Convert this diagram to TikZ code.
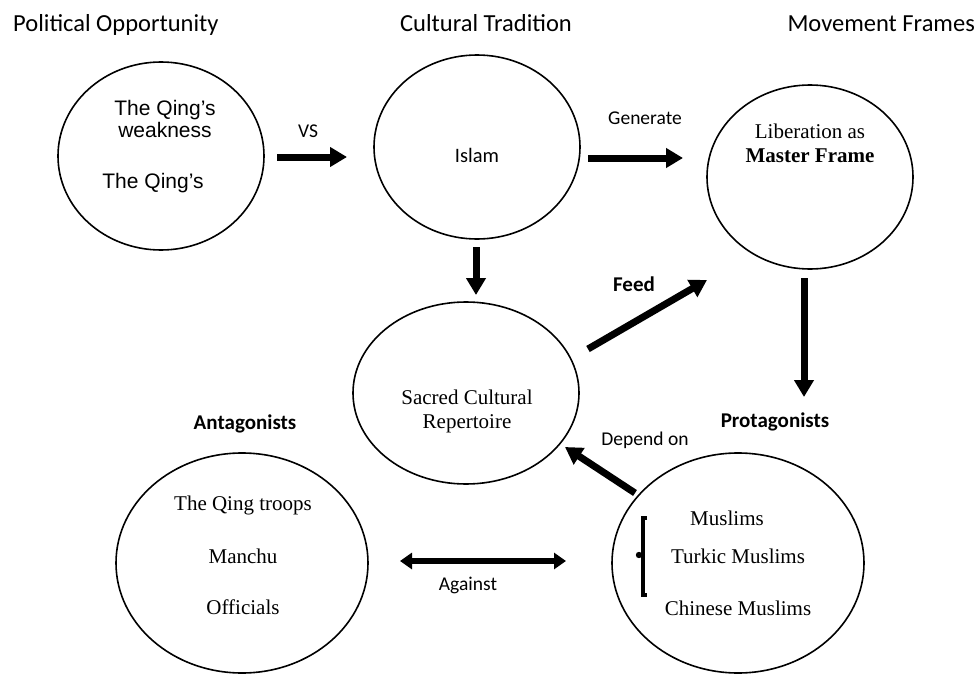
\documentclass[tikz,border=0pt]{standalone}
\usepackage{fontspec}
\setmainfont{Liberation Serif}
\newfontfamily\fcal{Carlito}
\newfontfamily\fari{Liberation Sans}
\usetikzlibrary{arrows.meta,shapes.geometric}
\begin{document}
\begin{tikzpicture}[x=1pt,y=-1pt,
  bub/.style={draw, ellipse, line width=1.6pt, inner sep=0pt},
  hdr/.style={font=\fcal\fontsize{24.5}{29}\selectfont, inner sep=0pt},
  lbl/.style={font=\fcal\fontsize{19.5}{23}\selectfont, inner sep=0pt},
  blbl/.style={font=\fcal\bfseries\fontsize{21}{25}\selectfont, inner sep=0pt},
  tms/.style={font=\fontsize{21}{24}\selectfont, inner sep=0pt, align=center},
  ari/.style={font=\fari\fontsize{21}{22}\selectfont, inner sep=0pt, align=center},
  bigarrow/.style={line width=7pt, -{Triangle[length=17pt,width=19pt]}},
  dblarrow/.style={line width=6pt, {Triangle[length=12pt,width=16pt]}-{Triangle[length=12pt,width=16pt]}}
]
\useasboundingbox (0,0) rectangle (978,677);

% headers
\node[hdr, anchor=base west] (hpol) at (13,32) {Political Opportunity};
\node[hdr, anchor=base] (hcul) at (486,32) {Cultural Tradition};
\node[hdr, anchor=base east] (hmov) at (975,32) {Movement Frames};

% ellipses
\node[bub, minimum width=206pt, minimum height=188pt] (e1) at (161,156) {};
\node[bub, minimum width=206pt, minimum height=184pt] (e2) at (477,147) {};
\node[bub, minimum width=206pt, minimum height=184pt] (e3) at (810,177) {};
\node[bub, minimum width=226pt, minimum height=182pt] (e4) at (466,393) {};
\node[bub, minimum width=252pt, minimum height=220pt] (e5) at (242,563) {};
\node[bub, minimum width=252pt, minimum height=220pt] (e6) at (738,563) {};

% texts in ellipses
\node[ari] (t1a) at (165,119) {The Qing’s\\weakness};
\node[ari] (t1b) at (153,183) {The Qing’s};
\node[lbl, font=\fcal\fontsize{20.5}{24}\selectfont] (t2) at (477,155) {Islam};
\node[tms] (t3) at (810,143) {Liberation as\\\textbf{Master Frame}};
\node[tms] (t4) at (467,411) {Sacred Cultural\\Repertoire};
\node[tms] (t5a) at (243,505) {The Qing troops};
\node[tms] (t5b) at (243,556) {Manchu};
\node[tms] (t5c) at (243,607) {Officials};
\node[tms] (t6a) at (727,518) {Muslims};
\node[tms] (t6b) at (738,556) {Turkic Muslims};
\node[tms] (t6c) at (738,608) {Chinese Muslims};

% group labels
\node[blbl] (hant) at (245,424) {Antagonists};
\node[blbl] (hpro) at (775,422) {Protagonists};

% arrow labels
\node[lbl] (lvs) at (308,131) {VS};
\node[lbl] (lgen) at (645,118) {Generate};
\node[blbl] (lfeed) at (634,284) {Feed};
\node[lbl] (ldep) at (645,440) {Depend on};
\node[lbl] (lag) at (468,585) {Against};

% arrow end coordinates
\coordinate (vsA) at (277,157);  \coordinate (vsB) at (347,157);
\coordinate (gnA) at (588,158);  \coordinate (gnB) at (683,158);
\coordinate (dnA) at (476,247);  \coordinate (dnB) at (476,295);
\coordinate (fdA) at (588,349);  \coordinate (fdB) at (707,280);
\coordinate (lpA) at (804,278);  \coordinate (lpB) at (804,397);
\coordinate (dpA) at (635,493);  \coordinate (dpB) at (565,447);
\coordinate (agA) at (400,561);  \coordinate (agB) at (566,561);

\draw[bigarrow] (vsA) -- (vsB);
\draw[bigarrow] (gnA) -- (gnB);
\draw[bigarrow] (dnA) -- (dnB);
\draw[bigarrow] (fdA) -- (fdB);
\draw[bigarrow] (lpA) -- (lpB);
\draw[bigarrow] (dpA) -- (dpB);
\draw[dblarrow] (agA) -- (agB);

% bracket
\coordinate (brT) at (647,518);
\coordinate (brB) at (647,595);
\draw[line width=4.5pt, line join=miter] (brT) -- (643,518) -- (643,595) -- (brB);
\fill (639,555) circle (3.2pt);
\end{tikzpicture}
\end{document}
